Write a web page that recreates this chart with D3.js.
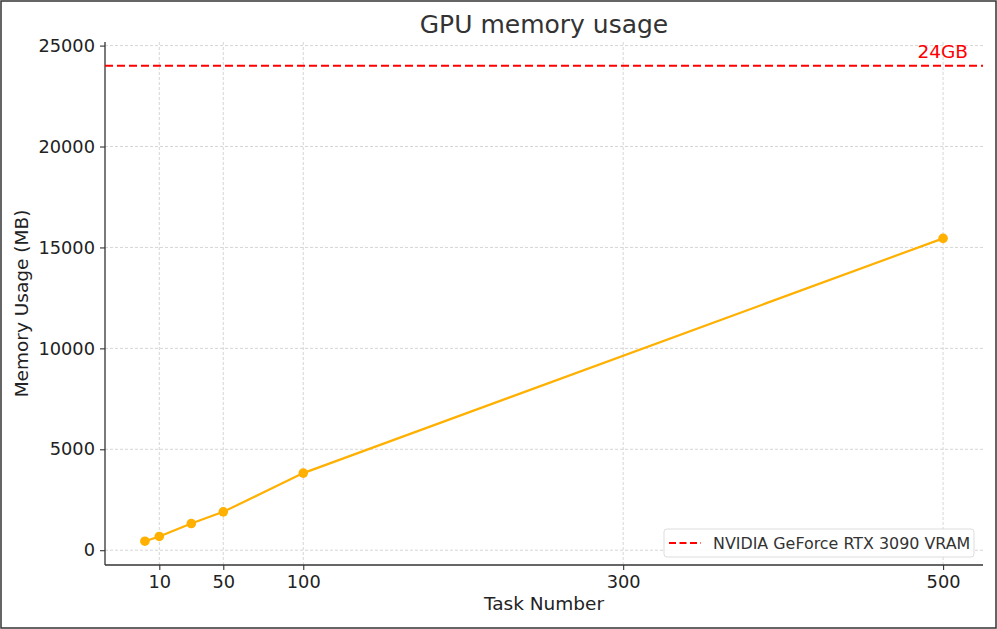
<!DOCTYPE html>
<html>
<head>
<meta charset="utf-8">
<style>
body { margin: 0; background: #fff; }
text { font-family: "DejaVu Sans", sans-serif; }
</style>
<script src="https://d3js.org/d3.v7.min.js"></script>
</head>
<body>
<script>
const tasks = [1, 10, 30, 50, 100, 500];
const memory = [445, 680, 1320, 1900, 3820, 15450];
const xTicks = [10, 50, 100, 300, 500];
const yTicks = [0, 5000, 10000, 15000, 20000, 25000];
const vram = 24000;

const W = 997, H = 629;
const m = { left: 105, right: 983, top: 42, bottom: 565 };

const svg = d3.select("body").append("svg")
  .attr("width", W).attr("height", H);

svg.append("rect")
  .attr("x", 1).attr("y", 1).attr("width", W - 2).attr("height", H - 2)
  .attr("fill", "#fff").attr("stroke", "#333").attr("stroke-width", 1.5);

// matplotlib style 5% margins
const x = d3.scaleLinear().domain([-23.95, 524.95]).range([m.left, m.right]);
const y = d3.scaleLinear().domain([-733, 25178]).range([m.bottom, m.top]);

// grid
const grid = svg.append("g").attr("stroke", "#ccc").attr("stroke-width", 0.8)
  .attr("stroke-dasharray", "3,2");
grid.selectAll(".gx").data(xTicks).join("line")
  .attr("x1", d => x(d)).attr("x2", d => x(d))
  .attr("y1", m.top).attr("y2", m.bottom);
grid.selectAll(".gy").data(yTicks).join("line")
  .attr("y1", d => y(d)).attr("y2", d => y(d))
  .attr("x1", m.left).attr("x2", m.right);

// axes
const xAxis = svg.append("g")
  .attr("transform", "translate(0," + m.bottom + ")")
  .call(d3.axisBottom(x).tickValues(xTicks).tickSize(5).tickPadding(5));
const yAxis = svg.append("g")
  .attr("transform", "translate(" + m.left + ",0)")
  .call(d3.axisLeft(y).tickValues(yTicks).tickSize(5).tickPadding(5).tickFormat(d3.format("d")));
[xAxis, yAxis].forEach(a => {
  a.select(".domain").attr("stroke", "#333").attr("stroke-width", 1.3);
  a.selectAll(".tick line").attr("stroke", "#333").attr("stroke-width", 1.1);
  a.selectAll(".tick text").attr("fill", "#222")
    .style("font-family", "DejaVu Sans").style("font-size", "17.8px");
});
xAxis.select(".domain").attr("d", "M" + m.left + ",0H" + m.right);
yAxis.select(".domain").attr("d", "M0," + m.bottom + "V" + m.top);

// 24GB line
svg.append("line")
  .attr("x1", m.left).attr("x2", m.right)
  .attr("y1", y(vram)).attr("y2", y(vram))
  .attr("stroke", "#ff0000").attr("stroke-width", 2)
  .attr("stroke-dasharray", "8,4");
svg.append("text")
  .attr("x", 968).attr("y", y(vram) - 8)
  .attr("text-anchor", "end").attr("fill", "#ff0000")
  .style("font-size", "18.5px").text("24GB");

// memory line
const color = "#FFB000";
svg.append("path").datum(tasks.map((t, i) => [t, memory[i]]))
  .attr("fill", "none").attr("stroke", color).attr("stroke-width", 2.2)
  .attr("d", d3.line().x(d => x(d[0])).y(d => y(d[1])));
svg.selectAll(".pt").data(tasks.map((t, i) => [t, memory[i]])).join("circle")
  .attr("cx", d => x(d[0])).attr("cy", d => y(d[1])).attr("r", 4.8)
  .attr("fill", color);

// title and labels
svg.append("text").attr("x", (m.left + m.right) / 2).attr("y", 33)
  .attr("text-anchor", "middle").attr("fill", "#333")
  .style("font-size", "25px").text("GPU memory usage");
svg.append("text").attr("x", (m.left + m.right) / 2).attr("y", 610)
  .attr("text-anchor", "middle").attr("fill", "#222")
  .style("font-size", "18.5px").text("Task Number");
svg.append("text")
  .attr("transform", "translate(28," + ((m.top + m.bottom) / 2) + ") rotate(-90)")
  .attr("text-anchor", "middle").attr("fill", "#222")
  .style("font-size", "18.5px").text("Memory Usage (MB)");

// legend
const lg = svg.append("g").attr("transform", "translate(664,529)");
lg.append("rect").attr("width", 310).attr("height", 28).attr("rx", 3)
  .attr("fill", "#fff").attr("fill-opacity", 0.85)
  .attr("stroke", "#ddd").attr("stroke-width", 1);
lg.append("line").attr("x1", 5).attr("x2", 37).attr("y1", 14).attr("y2", 14)
  .attr("stroke", "#ff0000").attr("stroke-width", 2).attr("stroke-dasharray", "7,3.5");
lg.append("text").attr("x", 49).attr("y", 19.5).attr("fill", "#333")
  .style("font-size", "15.9px").text("NVIDIA GeForce RTX 3090 VRAM");
</script>
</body>
</html>
